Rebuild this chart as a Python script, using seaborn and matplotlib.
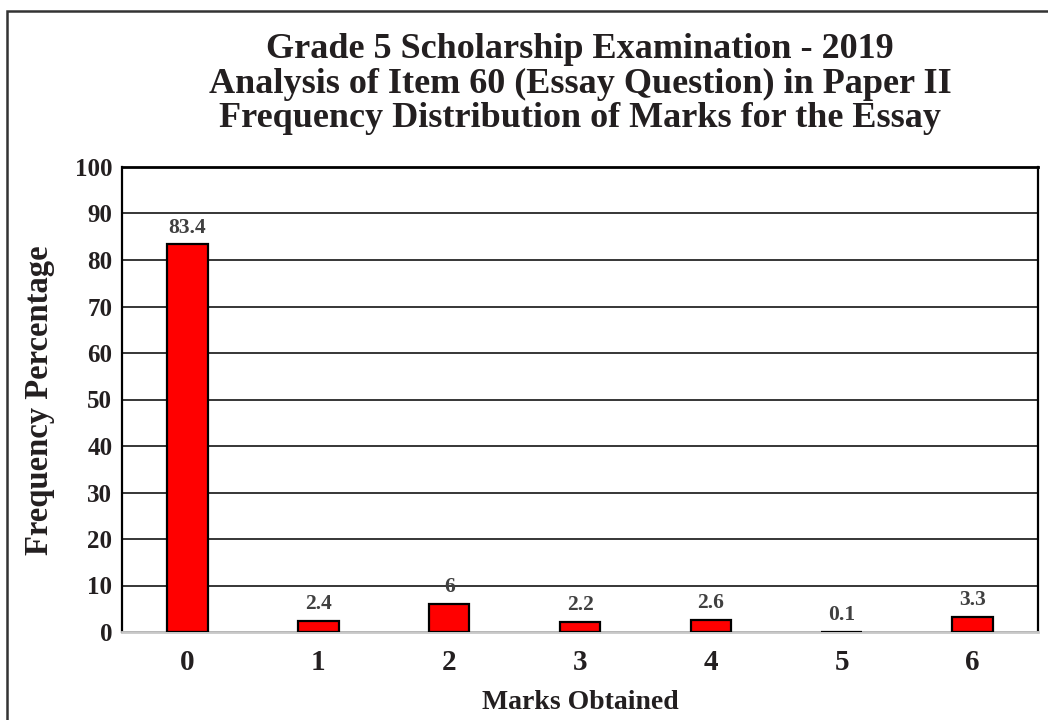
import matplotlib
matplotlib.use("Agg")
import matplotlib.pyplot as plt
from matplotlib.patches import Rectangle
import pandas as pd
import seaborn as sns

# Marks obtained for the essay item and the share of candidates at each mark
marks = ["0", "1", "2", "3", "4", "5", "6"]
percentages = [83.4, 2.4, 6, 2.2, 2.6, 0.1, 3.3]
y_ticks = [0, 10, 20, 30, 40, 50, 60, 70, 80, 90, 100]

title_lines = [
    "Grade 5 Scholarship Examination - 2019",
    "Analysis of Item 60 (Essay Question) in Paper II",
    "Frequency Distribution of Marks for the Essay",
]
x_title = "Marks Obtained"
y_title = "Frequency Percentage"

sns.set_style("white")
plt.rcParams["font.family"] = ["Liberation Serif", "DejaVu Serif"]
plt.rcParams["font.weight"] = "bold"

TEXT = "#231f20"
LABEL = "#404040"

df = pd.DataFrame({"mark": marks, "pct": percentages})

fig = plt.figure(figsize=(10.48, 7.2), dpi=100)
ax = fig.add_axes([122 / 1048, 1 - 632 / 720, 916 / 1048, 465 / 720])

sns.barplot(data=df, x="mark", y="pct", order=marks, color="#ff0000",
            width=0.31, edgecolor="black", linewidth=1.6, saturation=1,
            ax=ax, zorder=3)

ax.set_xlim(-0.5, len(marks) - 0.5)
ax.set_ylim(0, 100)
ax.set_yticks(y_ticks)
ax.set_yticklabels([str(t) for t in y_ticks])
ax.yaxis.grid(True, color="black", linewidth=1.1, zorder=0)
ax.set_axisbelow(True)
ax.xaxis.grid(False)

ax.tick_params(axis="y", length=0, pad=7, labelsize=18, labelcolor=TEXT)
ax.tick_params(axis="x", length=0, pad=12, labelsize=21, labelcolor=TEXT)
for lbl in ax.get_xticklabels() + ax.get_yticklabels():
    lbl.set_fontweight("bold")

ax.set_xlabel("")
ax.set_ylabel("")

for side in ("left", "right", "top"):
    ax.spines[side].set_visible(True)
    ax.spines[side].set_color("black")
    ax.spines[side].set_linewidth(1.6)
ax.spines["top"].set_linewidth(2.0)
ax.spines["bottom"].set_color("#c8c8c8")
ax.spines["bottom"].set_linewidth(2.0)

# Value labels above each bar
for i, v in enumerate(percentages):
    ax.annotate(f"{v:g}", xy=(i, v), xytext=(0, 12), textcoords="offset points",
                ha="center", va="center", fontsize=15.5, fontweight="bold",
                color=LABEL, zorder=4)

# Three-line title, one text per line on its own baseline
for line, base_px in zip(title_lines, [58, 93, 127]):
    fig.text(580 / 1048, 1 - base_px / 720, line, ha="center",
             va="baseline", fontsize=26, fontweight="bold", color=TEXT)

fig.text(580 / 1048, 1 - 709 / 720, x_title, ha="center", va="baseline",
         fontsize=20, fontweight="bold", color=TEXT)
fig.text(40 / 1048, 1 - 400 / 720, y_title, ha="center", va="center",
         rotation=90, fontsize=23.5, fontweight="bold", color=TEXT)

# Outer frame around the chart
fig.add_artist(Rectangle((7 / 1048, -0.2), 1.2, 1.2 - 11 / 720,
                         transform=fig.transFigure, fill=False,
                         edgecolor="#333333", linewidth=1.8))

fig.savefig("out.png", dpi=100)
